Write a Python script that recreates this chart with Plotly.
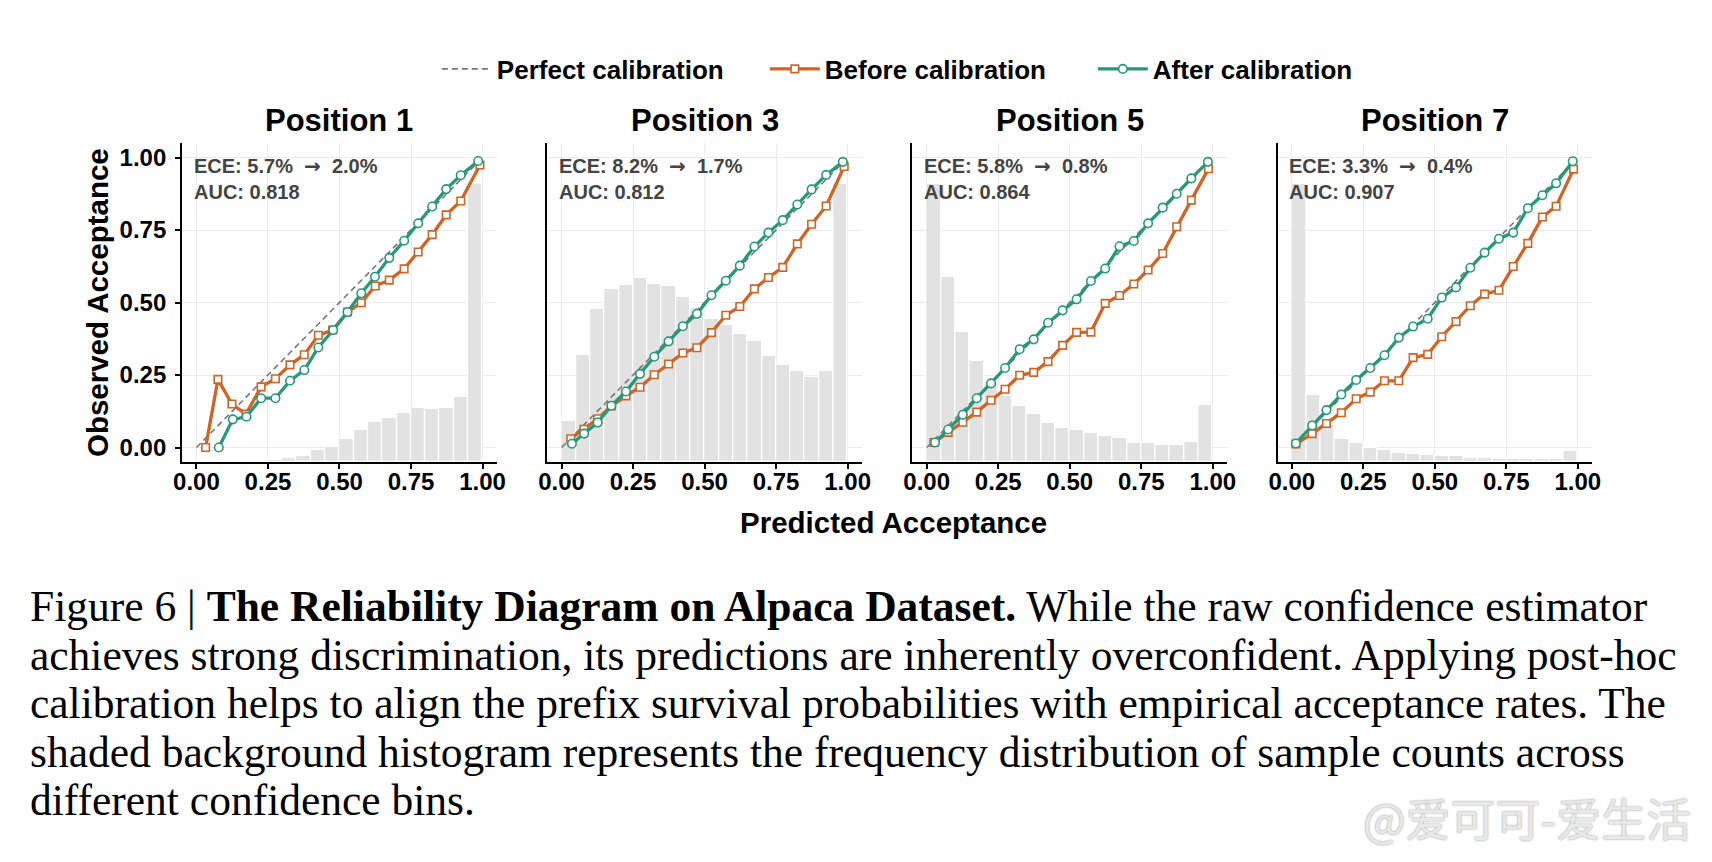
import numpy as np
import plotly.graph_objects as go

# ---------------- data ----------------
PANEL_TITLES = ["Position 1", "Position 3", "Position 5", "Position 7"]
ECE_BEFORE = ["5.7%", "8.2%", "5.8%", "3.3%"]
ECE_AFTER = ["2.0%", "1.7%", "0.8%", "0.4%"]
AUC = ["0.818", "0.812", "0.864", "0.907"]

N_BINS = 20
DIAG = [0.0, 1.0]

# Histogram of sample counts per confidence bin (relative to the tallest bin)
HIST_P1 = [0, 0, 0, 0.001, 0.003, 0.006, 0.014, 0.021, 0.043, 0.054, 0.083, 0.114,
           0.144, 0.158, 0.177, 0.194, 0.192, 0.194, 0.235, 1.0]
HIST_P3 = [0.147, 0.386, 0.552, 0.624, 0.639, 0.664, 0.642, 0.633, 0.596, 0.555, 0.516,
           0.494, 0.461, 0.437, 0.382, 0.350, 0.329, 0.307, 0.329, 1.0]
HIST_P5 = [1.0, 0.665, 0.470, 0.365, 0.285, 0.238, 0.201, 0.173, 0.142, 0.123, 0.114,
           0.105, 0.094, 0.086, 0.069, 0.069, 0.063, 0.060, 0.072, 0.205]
HIST_P7 = [1.0, 0.241, 0.132, 0.084, 0.067, 0.052, 0.043, 0.032, 0.030, 0.024, 0.021,
           0.021, 0.016, 0.016, 0.012, 0.012, 0.012, 0.012, 0.012, 0.039]

P1_BEFORE_X = [0.032, 0.075, 0.124, 0.173, 0.226, 0.276, 0.327, 0.377, 0.426, 0.476, 0.528,
               0.576, 0.625, 0.674, 0.726, 0.775, 0.824, 0.873, 0.924, 0.991]
P1_BEFORE_Y = [0.000, 0.235, 0.150, 0.115, 0.209, 0.237, 0.285, 0.320, 0.387, 0.405, 0.467,
               0.499, 0.557, 0.577, 0.616, 0.674, 0.734, 0.802, 0.850, 0.974]
P1_AFTER_X = [0.078, 0.127, 0.175, 0.226, 0.276, 0.327, 0.377, 0.426, 0.478, 0.528, 0.576,
              0.624, 0.674, 0.726, 0.775, 0.824, 0.873, 0.924, 0.985]
P1_AFTER_Y = [0.000, 0.097, 0.106, 0.170, 0.170, 0.230, 0.267, 0.345, 0.405, 0.467, 0.532,
              0.589, 0.654, 0.713, 0.773, 0.831, 0.891, 0.939, 0.988]

P3_BEFORE_X = [0.032, 0.078, 0.126, 0.174, 0.225, 0.274, 0.324, 0.374, 0.424, 0.473, 0.524,
               0.574, 0.623, 0.674, 0.723, 0.773, 0.824, 0.874, 0.925, 0.988]
P3_BEFORE_Y = [0.030, 0.063, 0.099, 0.143, 0.178, 0.208, 0.251, 0.288, 0.326, 0.344, 0.396,
               0.456, 0.486, 0.547, 0.586, 0.621, 0.702, 0.770, 0.833, 0.969]
P3_AFTER_X = [0.036, 0.079, 0.126, 0.174, 0.225, 0.274, 0.324, 0.374, 0.424, 0.473, 0.524,
              0.574, 0.623, 0.674, 0.723, 0.773, 0.824, 0.874, 0.925, 0.983]
P3_AFTER_Y = [0.013, 0.048, 0.086, 0.144, 0.193, 0.254, 0.313, 0.366, 0.418, 0.461, 0.525,
              0.575, 0.627, 0.693, 0.741, 0.784, 0.838, 0.890, 0.940, 0.985]

P5_BEFORE_X = [0.025, 0.075, 0.126, 0.175, 0.225, 0.274, 0.325, 0.374, 0.424, 0.475, 0.524,
               0.574, 0.624, 0.674, 0.724, 0.774, 0.825, 0.874, 0.925, 0.985]
P5_BEFORE_Y = [0.017, 0.052, 0.087, 0.122, 0.163, 0.201, 0.249, 0.259, 0.296, 0.352, 0.397,
               0.398, 0.497, 0.524, 0.564, 0.612, 0.669, 0.761, 0.853, 0.961]
P5_AFTER_X = [0.029, 0.075, 0.126, 0.175, 0.225, 0.274, 0.325, 0.374, 0.424, 0.475, 0.524,
              0.574, 0.624, 0.674, 0.724, 0.774, 0.825, 0.874, 0.925, 0.983]
P5_AFTER_Y = [0.017, 0.062, 0.113, 0.170, 0.221, 0.274, 0.339, 0.373, 0.430, 0.473, 0.511,
              0.574, 0.617, 0.694, 0.712, 0.773, 0.827, 0.875, 0.928, 0.985]

P7_BEFORE_X = [0.014, 0.071, 0.121, 0.173, 0.225, 0.274, 0.324, 0.374, 0.424, 0.475, 0.524,
               0.574, 0.624, 0.674, 0.724, 0.774, 0.825, 0.876, 0.924, 0.985]
P7_BEFORE_Y = [0.012, 0.048, 0.083, 0.120, 0.168, 0.191, 0.230, 0.230, 0.310, 0.321, 0.382,
               0.434, 0.489, 0.529, 0.542, 0.624, 0.704, 0.795, 0.832, 0.960]
P7_AFTER_X = [0.014, 0.071, 0.121, 0.173, 0.225, 0.274, 0.324, 0.374, 0.424, 0.475, 0.524,
              0.574, 0.624, 0.674, 0.724, 0.774, 0.825, 0.876, 0.924, 0.982]
P7_AFTER_Y = [0.014, 0.076, 0.129, 0.183, 0.233, 0.274, 0.318, 0.379, 0.417, 0.444, 0.517,
              0.552, 0.620, 0.672, 0.720, 0.741, 0.825, 0.870, 0.911, 0.987]

TICK_VALS = [0.0, 0.25, 0.5, 0.75, 1.0]
TICK_TEXT = ["0.00", "0.25", "0.50", "0.75", "1.00"]

CAPTION_LINES = [
    "Figure 6 | <b>The Reliability Diagram on Alpaca Dataset.</b> While the raw confidence estimator",
    "achieves strong discrimination, its predictions are inherently overconfident. Applying post-hoc",
    "calibration helps to align the prefix survival probabilities with empirical acceptance rates. The",
    "shaded background histogram represents the frequency distribution of sample counts across",
    "different confidence bins.",
]
WATERMARK = "@爱可可-爱生活"

HISTS = [HIST_P1, HIST_P3, HIST_P5, HIST_P7]
BEFORE = [(P1_BEFORE_X, P1_BEFORE_Y), (P3_BEFORE_X, P3_BEFORE_Y),
          (P5_BEFORE_X, P5_BEFORE_Y), (P7_BEFORE_X, P7_BEFORE_Y)]
AFTER = [(P1_AFTER_X, P1_AFTER_Y), (P3_AFTER_X, P3_AFTER_Y),
         (P5_AFTER_X, P5_AFTER_Y), (P7_AFTER_X, P7_AFTER_Y)]

# ---------------- style ----------------
W, H = 1712, 862
ORANGE = "#cf6426"
GREEN = "#26997a"
HIST_COLOR = "#e2e2e2"
GRID = "#ebebeb"
SANS = "Liberation Sans, Arial, sans-serif"
AX_RANGE = [-0.05, 1.05]
HIST_TOP = 0.87  # tallest bar as fraction of panel height
PANEL_LEFT = [175, 544, 913, 1282]
PANEL_W = 318
PANEL_TOP, PANEL_BOTTOM = 143, 462

edges = np.linspace(0, 1, N_BINS + 1)
centers = (edges[:-1] + edges[1:]) / 2
bin_w = edges[1] - edges[0]
span = AX_RANGE[1] - AX_RANGE[0]

fig = go.Figure()
layout = {}
annotations = []
ARROW = '\u00a0<span style="font-family:DejaVu Sans">\u2192</span>\u00a0'

for i in range(4):
    sfx = "" if i == 0 else str(i + 1)
    xref, yref = "x" + sfx, "y" + sfx
    first = i == 0

    fig.add_trace(go.Bar(
        x=centers, y=np.array(HISTS[i]) * HIST_TOP * span, base=AX_RANGE[0],
        width=bin_w, marker=dict(color=HIST_COLOR, line=dict(color="white", width=1.3)),
        xaxis=xref, yaxis=yref, showlegend=False, hoverinfo="skip"))
    fig.add_trace(go.Scatter(
        x=DIAG, y=DIAG, mode="lines", name="Perfect calibration",
        line=dict(color="#777777", width=1.6, dash="6px,4px"),
        xaxis=xref, yaxis=yref, showlegend=first, legendrank=1))
    bx, by = BEFORE[i]
    fig.add_trace(go.Scatter(
        x=bx, y=by, mode="lines+markers", name="Before calibration",
        line=dict(color=ORANGE, width=3.3),
        marker=dict(symbol="square", size=7.5, color="white", line=dict(color=ORANGE, width=1.6)),
        xaxis=xref, yaxis=yref, showlegend=first, legendrank=2))
    ax_, ay_ = AFTER[i]
    fig.add_trace(go.Scatter(
        x=ax_, y=ay_, mode="lines+markers", name="After calibration",
        line=dict(color=GREEN, width=3.3),
        marker=dict(symbol="circle", size=8.5, color="white", line=dict(color=GREEN, width=1.6)),
        xaxis=xref, yaxis=yref, showlegend=first, legendrank=3))

    x0 = PANEL_LEFT[i] / W
    x1 = (PANEL_LEFT[i] + PANEL_W) / W
    y0 = (H - PANEL_BOTTOM) / H
    y1 = (H - PANEL_TOP) / H
    layout["xaxis" + sfx] = dict(
        domain=[x0, x1], anchor=yref, range=AX_RANGE, tickvals=TICK_VALS, ticktext=TICK_TEXT,
        showgrid=True, gridcolor=GRID, gridwidth=1, zeroline=False,
        showline=True, linecolor="black", linewidth=2.2, ticks="outside", ticklen=5,
        tickwidth=1.6, tickcolor="black", ticklabelstandoff=-8,
        tickfont=dict(family=SANS, size=24, color="black", weight="bold"))
    layout["yaxis" + sfx] = dict(
        domain=[y0, y1], anchor=xref, range=AX_RANGE, tickvals=TICK_VALS, ticktext=TICK_TEXT,
        showgrid=True, gridcolor=GRID, gridwidth=1, zeroline=False,
        showline=True, linecolor="black", linewidth=2.2,
        ticks="outside" if first else "", ticklen=5, tickwidth=1.6, tickcolor="black",
        showticklabels=first, ticklabelstandoff=4,
        tickfont=dict(family=SANS, size=24, color="black", weight="bold"))

    # panel title
    annotations.append(dict(
        text=PANEL_TITLES[i], xref="paper", yref="paper",
        x=(x0 + x1) / 2, y=(H - 120) / H, xanchor="center", yanchor="middle",
        showarrow=False, font=dict(family=SANS, size=31, color="black", weight="bold")))
    # metrics text
    annotations.append(dict(
        text=f"ECE: {ECE_BEFORE[i]} {ARROW} {ECE_AFTER[i]}<br>AUC: {AUC[i]}",
        xref=xref + " domain", yref=yref + " domain", x=0.031, y=0.973,
        xanchor="left", yanchor="top", align="left", showarrow=False,
        font=dict(family=SANS, size=20, color="#444444", weight="bold")))

# axis titles
annotations.append(dict(
    text="Predicted Acceptance", xref="paper", yref="paper",
    x=894 / W, y=(H - 522) / H,
    xanchor="center", yanchor="middle", showarrow=False,
    font=dict(family=SANS, size=29.5, color="black", weight="bold")))
annotations.append(dict(
    text="Observed Acceptance", xref="paper", yref="paper",
    x=89 / W, y=(H - 303) / H, textangle=-90,
    xanchor="center", yanchor="middle", showarrow=False,
    font=dict(family=SANS, size=29.5, color="black", weight="bold")))

# caption
for k, line in enumerate(CAPTION_LINES):
    annotations.append(dict(
        text=line, xref="paper", yref="paper", x=19 / W, y=(H - (606 + 48.5 * k)) / H,
        xanchor="left", yanchor="middle", align="left", showarrow=False,
        font=dict(family="Liberation Serif, serif", size=43.5, color="black")))

# watermark
annotations.append(dict(
    text=WATERMARK, xref="paper", yref="paper", x=1702 / W, y=(H - 817) / H,
    xanchor="right", yanchor="middle", showarrow=False,
    font=dict(family="Noto Sans CJK SC", size=45, color="#e8e8e8",
              shadow="0px 0px 2px #8a8a8a")))

fig.update_layout(
    width=W, height=H, margin=dict(l=0, r=0, t=0, b=0),
    paper_bgcolor="white", plot_bgcolor="white",
    barmode="overlay", bargap=0,
    annotations=annotations,
    legend=dict(orientation="h", x=0.543, xanchor="center", y=(H - 69) / H, yanchor="middle",
                font=dict(family=SANS, size=26, color="black", weight="bold"),
                bgcolor="rgba(0,0,0,0)", entrywidth=263, itemwidth=50, traceorder="normal"),
    **layout,
)

fig.write_html("out.html")
